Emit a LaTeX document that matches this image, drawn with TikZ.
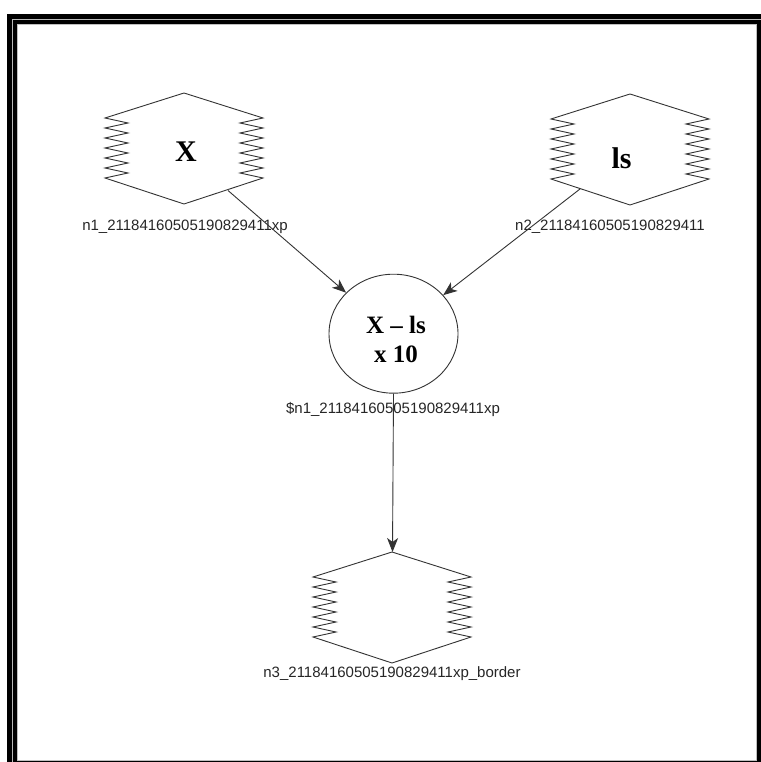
\documentclass[tikz,border=0pt]{standalone}
\usepackage{fontspec}
\setmainfont{Liberation Serif}
\newfontfamily\labelfont{Liberation Sans}
\usetikzlibrary{shapes.geometric,arrows.meta}
\tikzset{
  shapeline/.style={draw=black!80, line width=0.9pt, line join=miter},
  arr/.style={draw=black!80, line width=0.9pt, -{Stealth[length=14pt,width=11pt,inset=4pt]}},
  biglabel/.style={font=\fontsize{30}{30}\selectfont\bfseries, inner sep=0pt, anchor=base},
  midlabel/.style={font=\fontsize{25}{25}\selectfont\bfseries, inner sep=0pt, anchor=base},
  namelabel/.style={font=\labelfont\fontsize{15}{15}\selectfont, text=black!85, inner sep=0pt, anchor=base},
  holder/.style={draw=none, inner sep=0pt, minimum width=158pt, minimum height=112pt},
}
\newcommand\zigshape[2]{%
  \draw[shapeline, shift={(#1,#2)}] (0,0) -- (79,25)
    \foreach \k in {0,...,5} { -- (56,30+10*\k) -- (79,35+10*\k) }
    -- (0,111) -- (-79,85)
    \foreach \k in {0,...,5} { -- (-56,80-10*\k) -- (-79,75-10*\k) }
    -- cycle;%
}
\begin{document}
\begin{tikzpicture}[x=1pt,y=-1pt]
\useasboundingbox (0,0) rectangle (760,762);
\fill[white] (0,0) rectangle (760,762);
% frame
\fill[black] (7,14) rectangle (780,780);
\fill[gray!55] (12,19) rectangle (780,780);
\fill[black] (13,20) rectangle (780,780);
\fill[gray!50] (17,24) rectangle (757,761);
\fill[white] (18,25) rectangle (756,760);

% shape nodes
\node[holder] (s1) at (184,149) {};
\node[holder] (s2) at (630,150) {};
\node[holder] (s3) at (392,608) {};
\zigshape{184}{93}
\zigshape{630}{94}
\zigshape{392}{552}

\node[biglabel] (t1) at (186,162) {X};
\node[biglabel] (t2) at (621.5,168) {ls};

\node[namelabel] (l1) at (185,230) {n1\_21184160505190829411xp};
\node[namelabel] (l2) at (610,230) {n2\_21184160505190829411};
\node[namelabel] (l3) at (392,677) {n3\_21184160505190829411xp\_border};

% circle
\node[ellipse, shapeline, minimum width=129pt, minimum height=119pt, inner sep=0pt] (c) at (393.5,333.7) {};
\node[midlabel] (ct1) at (396,333) {X -- ls};
\node[midlabel] (ct2) at (396,362) {x 10};
\node[namelabel] (lc) at (393,413) {\$n1\_21184160505190829411xp};

% connector endpoints on the shapes
\coordinate (s1o) at (228,190.5);
\coordinate (s2o) at (580,189);
\coordinate (s3i) at (392.5,552);

\draw[arr] (s1o) -- (c);
\draw[arr] (s2o) -- (c);
\draw[arr] (c.south) -- (s3i);
\end{tikzpicture}
\end{document}
